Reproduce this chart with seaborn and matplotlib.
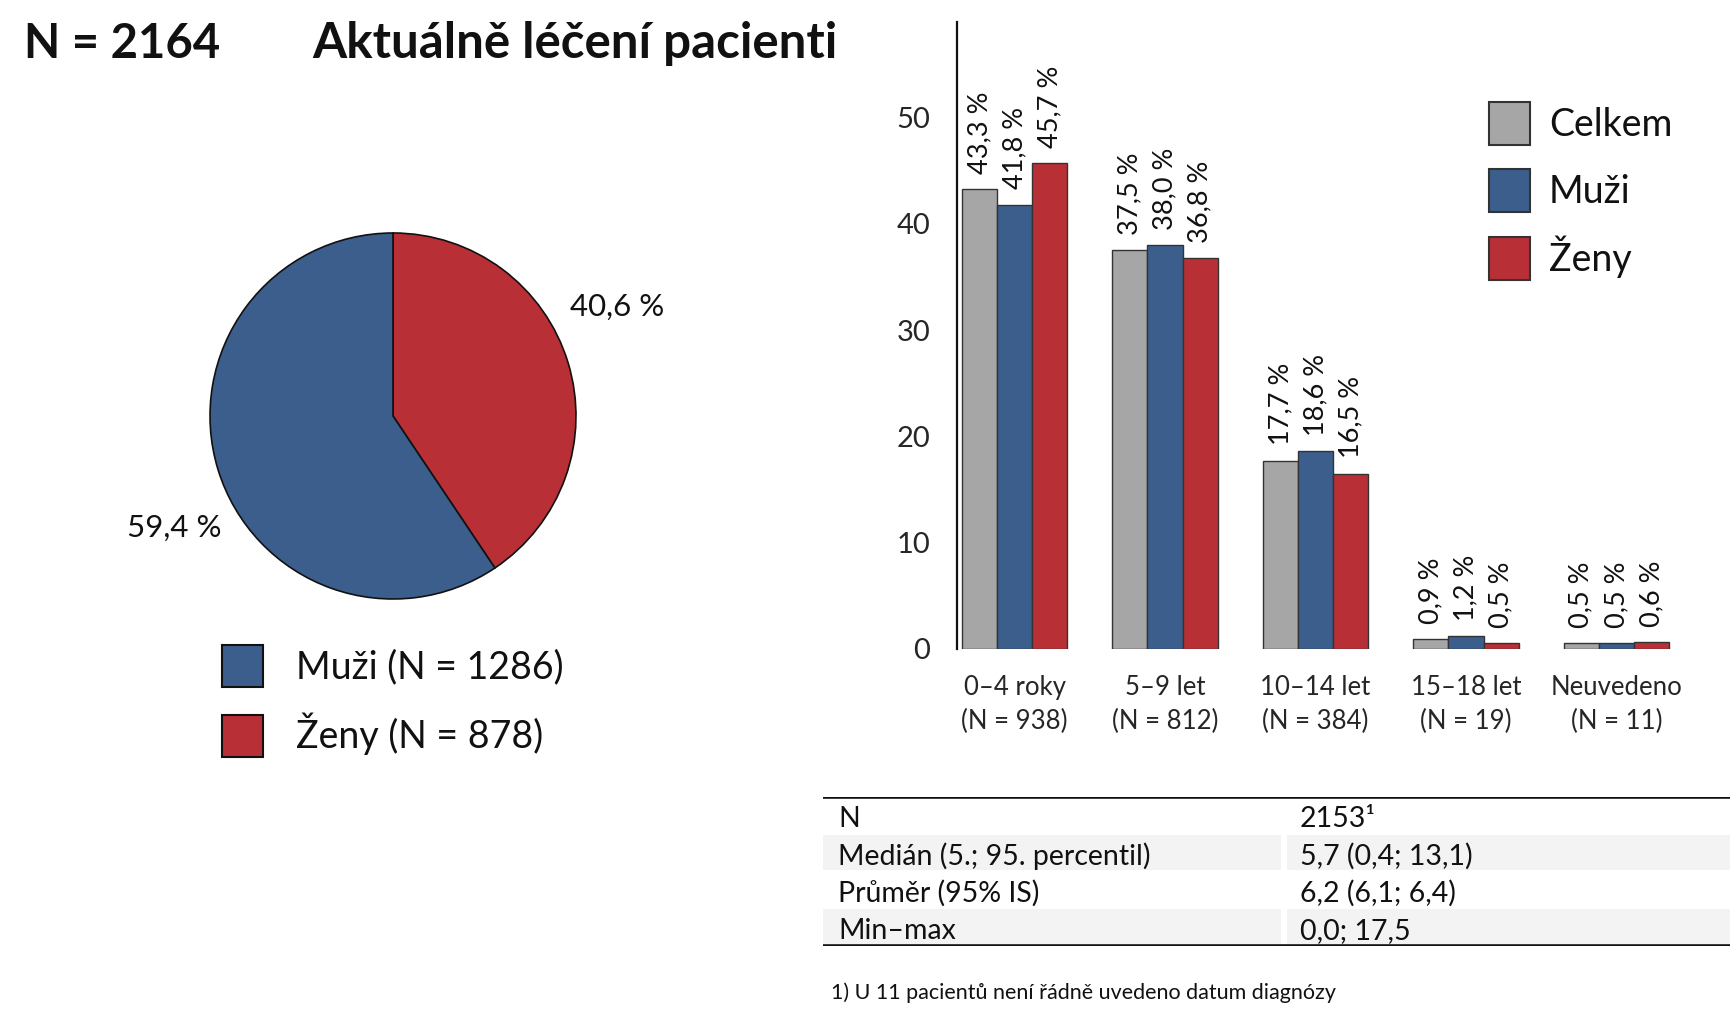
import matplotlib
matplotlib.use("Agg")
import matplotlib.pyplot as plt
import matplotlib.patches as mpatches
import seaborn as sns
import pandas as pd

# ---- data ----
age_groups = ["0–4 roky", "5–9 let", "10–14 let", "15–18 let", "Neuvedeno"]
age_n = ["(N = 938)", "(N = 812)", "(N = 384)", "(N = 19)", "(N = 11)"]
series = ["Celkem", "Muži", "Ženy"]
celkem = [43.3, 37.5, 17.7, 0.9, 0.5]
muzi = [41.8, 38.0, 18.6, 1.2, 0.5]
zeny = [45.7, 36.8, 16.5, 0.5, 0.6]

pie_labels = ["Ženy (N = 878)", "Muži (N = 1286)"]
pie_values = [40.6, 59.4]

title_n = "N = 2164"
title_main = "Aktuálně léčení pacienti"

table_rows = ["N", "Medián (5.; 95. percentil)", "Průměr (95% IS)", "Min–max"]
table_vals = ["2153¹", "5,7 (0,4; 13,1)", "6,2 (6,1; 6,4)", "0,0; 17,5"]
footnote = "1) U 11 pacientů není řádně uvedeno datum diagnózy"

# ---- style ----
GRAY = "#a6a6a6"
BLUE = "#3b5e8c"
RED = "#b83036"
EDGE = "#333333"

sns.set_theme(style="white")
plt.rcParams["font.family"] = ["Lato", "DejaVu Sans"]
plt.rcParams["text.color"] = "#111111"

fig = plt.figure(figsize=(17.3, 10.24), dpi=100)
W, H = 1730.0, 1024.0

def fx(px):
    return px / W

def fy(py):
    return 1 - py / H

# ---- titles ----
fig.text(fx(24), fy(44), title_n, fontsize=34, fontweight="bold", va="center", ha="left")
fig.text(fx(312), fy(44), title_main, fontsize=35.5, fontweight="bold", va="center", ha="left")

# ---- bar chart ----
left_px, right_px, top_px, bottom_px = 956.6, 1721.0, 22.0, 648.8
axb = fig.add_axes([fx(left_px), fy(bottom_px), fx(right_px - left_px), (bottom_px - top_px) / H])

df = pd.DataFrame({
    "grp": age_groups * 3,
    "ser": [s for s in series for _ in age_groups],
    "val": celkem + muzi + zeny,
})
sns.barplot(data=df, x="grp", y="val", hue="ser", order=age_groups, hue_order=series,
            palette=[GRAY, BLUE, RED], width=0.7, edgecolor=EDGE, linewidth=1.0,
            saturation=1, ax=axb)

for cont, vals in zip(axb.containers, [celkem, muzi, zeny]):
    axb.bar_label(cont, labels=[f"{v:.1f} %".replace(".", ",") for v in vals],
                  rotation=90, padding=11, fontsize=19.5)

axb.set_ylim(0, 59)
axb.set_xlim(-0.385, 4.695)
axb.set_yticks([0, 10, 20, 30, 40, 50])
axb.set_xticks(range(len(age_groups)))
axb.set_xticklabels([f"{a}\n{n}" for a, n in zip(age_groups, age_n)], fontsize=18.5, linespacing=1.45)
axb.tick_params(axis="y", length=0, pad=19, labelsize=21)
axb.tick_params(axis="x", length=0, pad=19)
axb.set_xlabel("")
axb.set_ylabel("")
for s in ["top", "right", "bottom"]:
    axb.spines[s].set_visible(False)
axb.spines["left"].set_color("#111111")
axb.spines["left"].set_linewidth(1.6)
axb.patch.set_alpha(0)

handles = [mpatches.Patch(facecolor=c, edgecolor=EDGE, linewidth=1.5) for c in [GRAY, BLUE, RED]]
if axb.get_legend() is not None:
    axb.get_legend().remove()
fig.legend(handles, series, loc="upper left", bbox_to_anchor=(fx(1474), fy(87)),
           frameon=False, fontsize=27, handlelength=1.1, handleheight=1.4,
           labelspacing=0.62, handletextpad=0.5, borderaxespad=0)

# ---- pie ----
cx, cy, r = 393.0, 416.0, 183.0
axp = fig.add_axes([fx(cx - r), fy(cy + r), 2 * r / W, 2 * r / H])
axp.pie(pie_values, colors=[RED, BLUE], startangle=90, counterclock=False, radius=1,
        wedgeprops=dict(edgecolor="#111111", linewidth=1.2))
axp.set_xlim(-1, 1)
axp.set_ylim(-1, 1)
axp.set_aspect("equal")
axp.axis("off")
fig.text(fx(570), fy(307), f"{pie_values[0]:.1f} %".replace(".", ","), fontsize=22.5, va="center", ha="left")
fig.text(fx(127), fy(528), f"{pie_values[1]:.1f} %".replace(".", ","), fontsize=22.5, va="center", ha="left")

pie_handles = [mpatches.Patch(facecolor=c, edgecolor="#111111", linewidth=1.5) for c in [BLUE, RED]]
fig.legend(pie_handles, [pie_labels[1], pie_labels[0]], loc="upper left",
           bbox_to_anchor=(fx(207), fy(630)), frameon=False, fontsize=27,
           handlelength=1.1, handleheight=1.35, labelspacing=0.68, handletextpad=0.88,
           borderaxespad=0)

# ---- table ----
t_left, t_right, t_top, t_bot = 823.0, 1730.0, 796.6, 945.5
axt = fig.add_axes([fx(t_left), fy(t_bot), fx(t_right - t_left), (t_bot - t_top) / H])
axt.set_xlim(0, t_right - t_left)
axt.set_ylim(len(table_rows), 0)
axt.axis("off")
col_split = 1284 - t_left
for i in [1, 3]:
    axt.add_patch(mpatches.Rectangle((0, i + 0.03), col_split - 3, 0.94, facecolor="#f3f3f3", edgecolor="none"))
    axt.add_patch(mpatches.Rectangle((col_split + 3, i + 0.03), t_right - t_left - col_split, 0.94,
                                     facecolor="#f3f3f3", edgecolor="none"))
axt.axhline(0, color="#111111", lw=2.6)
axt.axhline(len(table_rows), color="#111111", lw=2.6)
for i, (a, b) in enumerate(zip(table_rows, table_vals)):
    axt.text(838.5 - t_left, i + 0.6, a, fontsize=20.5, va="center", ha="left")
    axt.text(1300 - t_left, i + 0.6, b, fontsize=20.5, va="center", ha="left")

fig.text(fx(831), fy(993), footnote, fontsize=15.5, va="center", ha="left")

fig.savefig("out.png", dpi=100, facecolor="white")
